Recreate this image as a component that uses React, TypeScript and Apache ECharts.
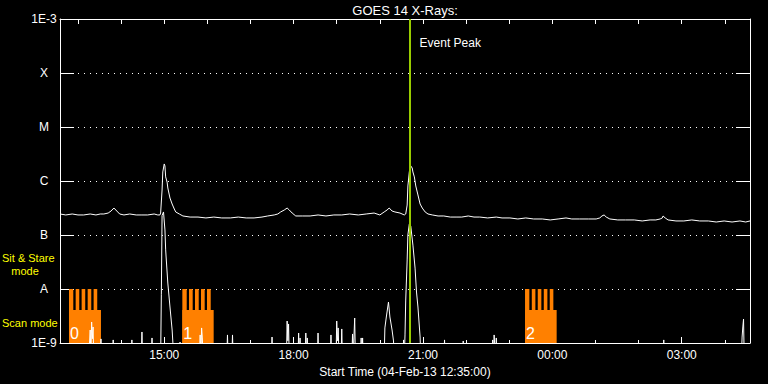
import React, { useEffect, useRef } from "react";
import * as echarts from "echarts";

// Times are minutes since 04-Feb-13 12:00 UT (values > 720 are past midnight)
const axisStart = 35; // 12:35
const axisEnd = 995; // 04:35

// GOES 14 long channel (1-8 A), W/m^2
const longChannel: [number, number][] = [
  [35, 2.45e-7], [43, 2.35e-7], [52, 2.45e-7], [60, 2.35e-7], [68, 2.35e-7], [77, 2.45e-7],
  [85, 2.35e-7], [91, 2.45e-7], [96, 2.45e-7], [102, 2.55e-7], [106, 2.78e-7], [110, 3.16e-7],
  [114, 2.78e-7], [118, 2.45e-7], [124, 2.35e-7], [132, 2.45e-7], [141, 2.35e-7], [149, 2.35e-7],
  [157, 2.35e-7], [166, 2.45e-7], [171, 2.35e-7], [174, 2.35e-7], [175, 2.55e-7], [177, 6.81e-7],
  [178, 1.47e-6], [180, 2.07e-6], [181, 1.9e-6], [182, 1.19e-6], [184, 9.54e-7], [185, 7.42e-7],
  [188, 4.84e-7], [191, 3.75e-7], [194, 3.03e-7], [196, 2.67e-7], [201, 2.45e-7], [206, 2.25e-7],
  [216, 2.15e-7], [227, 2.15e-7], [238, 2.07e-7], [249, 2.15e-7], [260, 2.07e-7], [272, 2.07e-7],
  [283, 2.15e-7], [294, 2.07e-7], [305, 2.07e-7], [316, 2.15e-7], [324, 2.25e-7], [333, 2.35e-7],
  [338, 2.45e-7], [342, 2.67e-7], [347, 2.9e-7], [351, 3.16e-7], [354, 2.9e-7], [358, 2.55e-7],
  [363, 2.25e-7], [372, 2.25e-7], [383, 2.25e-7], [394, 2.35e-7], [405, 2.25e-7], [416, 2.35e-7],
  [427, 2.35e-7], [438, 2.45e-7], [450, 2.35e-7], [461, 2.45e-7], [472, 2.55e-7], [480, 2.35e-7],
  [486, 2.67e-7], [490, 2.9e-7], [493, 3.16e-7], [497, 2.78e-7], [501, 2.67e-7], [508, 2.55e-7],
  [514, 2.35e-7], [516, 2.45e-7], [518, 3.59e-7], [519, 8.08e-7], [521, 1.47e-6], [522, 1.82e-6],
  [523, 1.9e-6], [525, 1.74e-6], [526, 1.47e-6], [528, 1.19e-6], [530, 8.08e-7], [533, 5.51e-7],
  [536, 3.75e-7], [539, 3.16e-7], [543, 2.67e-7], [547, 2.45e-7], [553, 2.35e-7], [561, 2.25e-7],
  [569, 2.25e-7], [578, 2.15e-7], [586, 2.15e-7], [594, 2.15e-7], [603, 2.25e-7], [611, 2.15e-7],
  [619, 2.15e-7], [630, 2.07e-7], [642, 2.15e-7], [650, 2.07e-7], [661, 2.07e-7], [672, 1.98e-7],
  [683, 2.07e-7], [694, 1.98e-7], [706, 1.98e-7], [717, 1.9e-7], [728, 1.98e-7], [739, 2.07e-7],
  [747, 1.98e-7], [758, 1.98e-7], [770, 1.98e-7], [781, 1.98e-7], [786, 2.07e-7], [789, 2.25e-7],
  [792, 2.35e-7], [795, 2.15e-7], [800, 1.98e-7], [811, 1.9e-7], [822, 1.9e-7], [834, 1.9e-7],
  [845, 1.82e-7], [856, 1.9e-7], [864, 1.9e-7], [870, 1.98e-7], [873, 2.07e-7], [874, 2.25e-7],
  [877, 2.07e-7], [881, 1.9e-7], [892, 1.82e-7], [903, 1.82e-7], [914, 1.9e-7], [925, 1.82e-7],
  [937, 1.82e-7], [948, 1.74e-7], [959, 1.82e-7], [970, 1.74e-7], [981, 1.82e-7], [989, 1.74e-7],
  [995, 1.82e-7],
];

// GOES 14 short channel (0.5-4 A), W/m^2 (baseline below plot floor)
const shortChannel: [number, number][] = [
  [35, 5e-10], [75, 5e-10], [77, 1.74e-9], [78, 6e-10], [79, 2.45e-9], [80, 1.2e-9], [81, 1.98e-9], [82, 5e-10],
  [91, 5e-10], [92, 1.19e-9], [93, 5e-10], [108, 5e-10], [109, 1.14e-9], [110, 5e-10],
  [134, 5e-10], [135, 1.14e-9], [136, 5e-10], [148, 5e-10], [149, 1.6e-9], [150, 5e-10],
  [162, 5e-10], [163, 1.24e-9], [164, 5e-10],
  [175, 5e-10], [176, 8e-9], [177, 2.3e-7], [179, 2.67e-7], [181, 1.24e-7], [182, 5.3e-8], [185, 1.29e-8],
  [188, 4.64e-9], [191, 1.74e-9], [192, 1.04e-9], [193, 5e-10],
  [201, 5e-10], [202, 1.04e-9], [203, 5e-10],
  [229, 5e-10], [230, 1.41e-9], [231, 5e-10], [232, 1.9e-9], [233, 1.24e-9], [234, 5e-10],
  [267, 5e-10], [268, 1.41e-9], [269, 5e-10], [274, 5e-10], [275, 1.41e-9], [276, 5e-10],
  [329, 5e-10], [330, 1.29e-9], [331, 5e-10],
  [350, 5e-10], [351, 2.55e-9], [352, 1.1e-9], [353, 2.25e-9], [354, 5e-10],
  [366, 5e-10], [367, 1.53e-9], [368, 5e-10], [369, 1.24e-9], [370, 5e-10],
  [376, 5e-10], [377, 1.53e-9], [378, 5e-10], [379, 1.24e-9], [380, 5e-10],
  [393, 5e-10], [394, 1.53e-9], [395, 5e-10], [411, 5e-10], [412, 1.41e-9], [413, 5e-10],
  [419, 5e-10], [420, 2.55e-9], [421, 1.1e-9], [422, 1.9e-9], [423, 7e-10], [426, 5e-10], [427, 1.82e-9], [428, 5e-10],
  [441, 5e-10], [442, 1.47e-9], [443, 6e-10], [445, 2.9e-9], [446, 5e-10],
  [453, 5e-10], [454, 1.24e-9], [455, 5e-10], [456, 1.24e-9], [457, 5e-10],
  [486, 5e-10], [487, 1.9e-9], [489, 3.03e-9], [492, 5.74e-9], [494, 3.03e-9], [497, 1.74e-9], [499, 1.09e-9], [500, 5e-10],
  [512, 5e-10], [513, 1.14e-9], [514, 5e-10], [515, 1.41e-9], [516, 6.25e-9], [518, 3.45e-8], [519, 1.0e-7],
  [521, 1.6e-7], [523, 1.47e-7], [526, 6.5e-8], [529, 2.44e-8], [531, 8.79e-9], [533, 4.64e-9], [536, 1.29e-9], [537, 5e-10],
  [569, 5e-10], [570, 1.14e-9], [571, 5e-10], [595, 5e-10], [596, 1.09e-9], [597, 5e-10],
  [636, 5e-10], [637, 1.14e-9], [638, 5e-10], [639, 1.41e-9], [641, 5e-10], [642, 1.24e-9], [643, 5e-10],
  [874, 5e-10], [875, 1.14e-9], [876, 5e-10],
  [983, 5e-10], [984, 1.29e-9], [985, 1.98e-9], [986, 2.78e-9], [987, 5e-10], [995, 5e-10],
];

// Observation windows: [start, end, block label]
const scanWindows: [number, number, string][] = [
  [47.5, 92, "0"],
  [205.2, 248.8, "1"],
  [682, 726, "2"],
];
const sitStareWindows: [number, number][] = [
  [47.5, 53.5], [56.8, 61.8], [65.1, 70.1], [73.5, 78.5], [81.8, 86.8],
  [205.2, 211.3], [214.5, 219.6], [222.8, 228.0], [231.2, 236.3], [239.5, 244.7],
  [682, 688], [691.4, 696.4], [699.7, 704.7], [708.1, 713.1], [716.4, 721.4],
];
const scanLevel = 4.1e-9;
const sitStareLevel = 1e-8;

const eventPeak = 522; // 20:42
const eventPeakLabelLevel = 3.6e-4;

const yMin = 1e-9;
const yMax = 1e-3;
const yLevelExponents = [-9, -8, -7, -6, -5, -4, -3];
const yLevelLabels = ["1E-9", "A", "B", "C", "M", "X", "1E-3"];

const hourTicks = [60, 120, 180, 240, 300, 360, 420, 480, 540, 600, 660, 720, 780, 840, 900, 960];
const majorTicks = [180, 360, 540, 720, 900];
const majorTickLabels = ["15:00", "18:00", "21:00", "00:00", "03:00"];

const FONT = '"Liberation Sans", Arial, sans-serif';
const ORANGE = "#ff8000";

export default function App() {
  const ref = useRef<HTMLDivElement>(null);
  useEffect(() => {
    if (!ref.current) return;
    const chart = echarts.init(ref.current, null, { renderer: "svg" });

    const blockRender = (params: any, api: any) => {
      const s = api.value(0);
      const e = api.value(1);
      const top = api.value(2);
      const p0 = api.coord([s, top]);
      const p1 = api.coord([e, yMin]);
      const children: any[] = [
        {
          type: "rect",
          shape: { x: p0[0], y: p0[1], width: p1[0] - p0[0], height: p1[1] - p0[1] },
          style: { fill: ORANGE },
        },
      ];
      const label = params.seriesName === "scan" ? scanWindows[params.dataIndex][2] : null;
      if (label != null) {
        children.push({
          type: "text",
          x: p0[0] + 1,
          y: p1[1] - 10,
          z2: 10,
          style: {
            text: label,
            fill: "#ffffff",
            font: `16px ${FONT}`,
            verticalAlign: "middle",
            align: "left",
          },
        });
      }
      return { type: "group", children };
    };

    const xBase = {
      type: "value" as const,
      min: axisStart,
      max: axisEnd,
      splitLine: { show: false },
    };

    chart.setOption({
      animation: false,
      backgroundColor: "#000000",
      grid: { left: 60, top: 19, width: 690, height: 324, containLabel: false },
      graphic: [
        {
          type: "text",
          x: 405,
          y: 10,
          style: {
            text: "GOES 14 X-Rays:",
            fill: "#ffffff",
            font: `13px ${FONT}`,
            align: "center",
            verticalAlign: "middle",
          },
        },
        {
          type: "text",
          x: 2,
          y: 258,
          style: { text: "Sit & Stare", fill: "#ffff00", font: `11px ${FONT}`, align: "left", verticalAlign: "middle" },
        },
        {
          type: "text",
          x: 25,
          y: 271,
          style: { text: "mode", fill: "#ffff00", font: `11px ${FONT}`, align: "center", verticalAlign: "middle" },
        },
        {
          type: "text",
          x: 2,
          y: 323,
          style: { text: "Scan mode", fill: "#ffff00", font: `11px ${FONT}`, align: "left", verticalAlign: "middle" },
        },
      ],
      xAxis: [
        {
          ...xBase,
          position: "bottom",
          axisLine: { show: true, lineStyle: { color: "#ffffff", width: 1 } },
          axisTick: { show: true, inside: true, length: 3, customValues: hourTicks, lineStyle: { color: "#ffffff" } },
          axisLabel: { show: false },
        },
        {
          ...xBase,
          position: "bottom",
          axisLine: { show: false },
          axisTick: { show: true, inside: true, length: 6, customValues: majorTicks, lineStyle: { color: "#ffffff" } },
          axisLabel: {
            show: true,
            customValues: majorTicks,
            margin: 6,
            color: "#ffffff",
            fontFamily: FONT,
            fontSize: 12,
            formatter: (v: number) => {
              const i = majorTicks.indexOf(Math.round(v));
              return i >= 0 ? majorTickLabels[i] : "";
            },
          },
          name: "Start Time (04-Feb-13 12:35:00)",
          nameLocation: "middle",
          nameGap: 17,
          nameTextStyle: { color: "#ffffff", fontFamily: FONT, fontSize: 12, verticalAlign: "top" },
        },
        {
          ...xBase,
          position: "top",
          axisLine: { show: true, lineStyle: { color: "#ffffff", width: 1 } },
          axisTick: { show: true, inside: true, length: 5, customValues: hourTicks, lineStyle: { color: "#ffffff" } },
          axisLabel: { show: false },
        },
      ],
      yAxis: [
        {
          type: "log",
          logBase: 10,
          min: yMin,
          max: yMax,
          splitNumber: 6,
          position: "left",
          axisLine: { show: true, lineStyle: { color: "#ffffff", width: 1 } },
          axisTick: { show: true, inside: true, length: 14, lineStyle: { color: "#ffffff" } },
          axisLabel: {
            show: true,
            color: "#ffffff",
            fontFamily: FONT,
            fontSize: 12,
            margin: 16,
            align: "center",
            formatter: (v: number) => {
              const e = Math.round(Math.log10(v));
              const i = yLevelExponents.indexOf(e);
              return i >= 0 ? yLevelLabels[i] : "";
            },
          },
          splitLine: { show: true, lineStyle: { color: "#ffffff", width: 1, type: [1, 5] } },
          minorTick: { show: false },
        },
        {
          type: "log",
          logBase: 10,
          min: yMin,
          max: yMax,
          splitNumber: 6,
          position: "right",
          axisLine: { show: true, lineStyle: { color: "#ffffff", width: 1 } },
          axisTick: { show: true, inside: true, length: 14, lineStyle: { color: "#ffffff" } },
          axisLabel: { show: false },
          splitLine: { show: false },
        },
      ],
      series: [
        {
          name: "scan",
          type: "custom",
          xAxisIndex: 0,
          yAxisIndex: 0,
          z: 1,
          renderItem: blockRender,
          encode: { x: [0, 1], y: 2 },
          data: scanWindows.map(([s, e]) => [s, e, scanLevel]),
          silent: true,
        },
        {
          name: "sitstare",
          type: "custom",
          xAxisIndex: 0,
          yAxisIndex: 0,
          z: 1,
          renderItem: blockRender,
          encode: { x: [0, 1], y: 2 },
          data: sitStareWindows.map(([s, e]) => [s, e, sitStareLevel]),
          silent: true,
        },
        {
          name: "long",
          type: "line",
          xAxisIndex: 0,
          yAxisIndex: 0,
          z: 3,
          symbol: "none",
          showSymbol: false,
          clip: true,
          lineStyle: { color: "#ffffff", width: 1 },
          data: longChannel,
          silent: true,
        },
        {
          name: "short",
          type: "line",
          xAxisIndex: 0,
          yAxisIndex: 0,
          z: 3,
          symbol: "none",
          showSymbol: false,
          clip: true,
          lineStyle: { color: "#ffffff", width: 1 },
          data: shortChannel,
          silent: true,
          markLine: {
            silent: true,
            symbol: ["none", "none"],
            label: { show: false },
            lineStyle: { color: "#99cc00", width: 2, type: "solid" },
            data: [{ xAxis: eventPeak }],
          },
          markPoint: {
            silent: true,
            symbol: "rect",
            symbolSize: 1,
            itemStyle: { color: "rgba(0,0,0,0)" },
            label: {
              show: true,
              position: "right",
              distance: 9,
              color: "#ffffff",
              fontFamily: FONT,
              fontSize: 12,
              formatter: "Event Peak",
            },
            data: [{ coord: [eventPeak, eventPeakLabelLevel] }],
          },
        },
      ],
    });
    return () => chart.dispose();
  }, []);

  return (
    <div
      ref={ref}
      style={{ position: "fixed", left: 0, top: 0, width: 768, height: 384, background: "#000" }}
    />
  );
}
